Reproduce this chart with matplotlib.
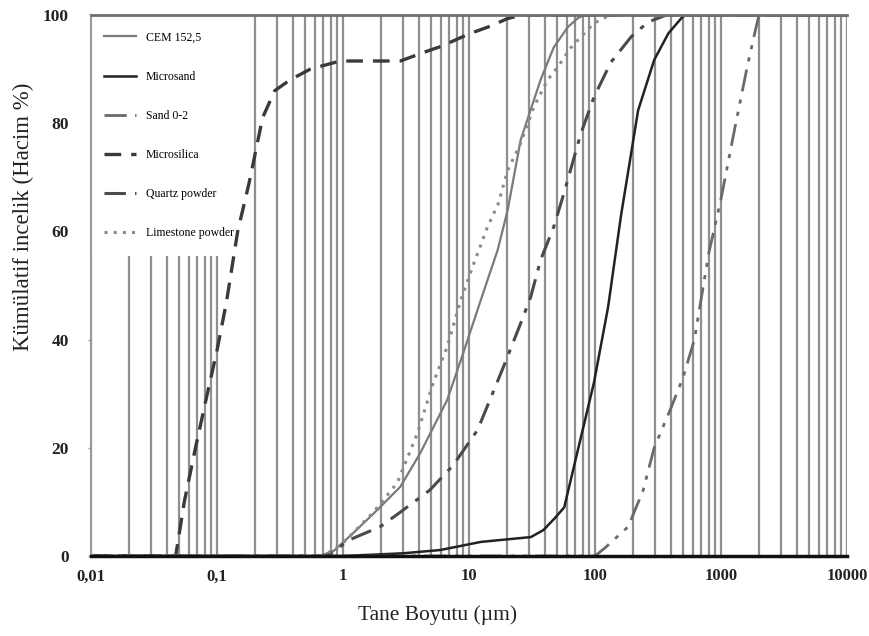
import numpy as np
import matplotlib
matplotlib.use('Agg')
import matplotlib.pyplot as plt
from matplotlib.ticker import FixedLocator, FixedFormatter, NullFormatter

plt.rcParams['font.family'] = ['Liberation Serif', 'DejaVu Serif']

# Cumulative passing (%) versus particle size (um).
cem_x = [0.01, 0.66, 0.85, 1.2, 1.87, 2.85, 4.1, 6.7, 9.0, 12.4, 16.9, 20.3,
         25.7, 37, 47, 61, 73, 82, 10000]
cem_y = [0, 0, 1, 4.2, 8.5, 12.8, 19, 28.8, 37.5, 47.3, 56.6, 64,
         76.9, 88, 94, 97.8, 99.4, 100, 100]

microsand_x = [0.01, 1.0, 3.0, 5.9, 12.4, 31, 39, 48, 57, 68, 98, 127, 161,
               220, 295, 382, 484, 520, 10000]
microsand_y = [0, 0, 0.5, 1.1, 2.6, 3.5, 4.8, 7, 9, 16.5, 32, 46, 63,
               82.4, 91.7, 96.6, 99.4, 100, 100]

sand_x = [0.01, 100, 120, 183, 240, 295, 403, 500, 615, 800, 1000, 1260,
          1600, 1850, 2000, 10000]
sand_y = [0, 0, 1.5, 5.4, 12, 20, 27.5, 33, 40, 56, 66, 78,
          90, 96.6, 100, 100]

microsilica_x = [0.01, 0.047, 0.055, 0.0675, 0.082, 0.1, 0.119, 0.146, 0.18,
                 0.23, 0.287, 0.38, 0.55, 0.95, 1.5, 2.85, 4.9, 6.0, 10, 15,
                 20, 26, 10000]
microsilica_y = [0, 0, 10, 20, 29, 38, 47, 60, 69,
                 81, 86, 88, 90, 91.5, 91.5, 91.5, 93.5, 94.2, 96.5, 98,
                 99.3, 100, 100]

quartz_x = [0.01, 0.75, 1.13, 1.97, 2.85, 4.9, 7.5, 11.7, 18.8, 25.7, 30.9,
            37, 47, 56.6, 77, 98, 134, 194, 264, 368, 10000]
quartz_y = [0, 0, 3, 5.4, 8.1, 12.2, 16.8, 23.3, 35, 43, 47.9,
            54.7, 60.8, 67, 78, 84.8, 91.3, 96, 98.7, 100, 100]

limestone_x = [0.01, 0.7, 1.0, 1.73, 2.69, 3.9, 5.2, 6.7, 8.6, 10.9, 14, 17,
               20.3, 25.7, 32.7, 42, 50.7, 64, 82, 98, 118, 130, 10000]
limestone_y = [0, 0, 2.4, 8, 13.5, 22.7, 32, 38.6, 47.3, 54, 60.8, 65,
               71.3, 76.3, 83, 88, 90.4, 93.9, 96.6, 98.5, 99.4, 100, 100]

x_ticks = [0.01, 0.1, 1, 10, 100, 1000, 10000]
x_tick_labels = ['0,01', '0,1', '1', '10', '100', '1000', '10000']
y_ticks = [0, 20, 40, 60, 80, 100]

fig = plt.figure(figsize=(8.69, 6.36), dpi=100)
ax = fig.add_axes([0.1047, 0.1258, 0.870, 0.8506])

# Curves drawn above the legend box, as in the original.
ax.plot(cem_x, cem_y, color='#7a7a7a', lw=1.6, label='CEM 152,5', zorder=6)
ax.plot(microsand_x, microsand_y, color='#222222', lw=1.8, label='Microsand',
        zorder=6)
ax.plot(sand_x, sand_y, color='#6a6a6a', lw=2.0, dashes=[8, 3, 1.5, 3, 1.5, 3],
        label='Sand 0-2', zorder=6)
ax.plot(microsilica_x, microsilica_y, color='#3a3a3a', lw=2.4, dashes=[5, 3],
        label='Microsilica', zorder=6)
ax.plot(quartz_x, quartz_y, color='#4a4a4a', lw=2.2, dashes=[7, 3, 1.5, 3],
        label='Quartz powder', zorder=6)
ax.plot(limestone_x, limestone_y, color='#8a8a8a', lw=2.2, dashes=[1, 2],
        label='Limestone powder', zorder=6)

ax.set_xscale('log')
ax.set_xlim(0.01, 10000)
ax.set_ylim(0, 100)

minor = [m * 10.0 ** e for e in range(-2, 4) for m in range(2, 10)]
ax.xaxis.set_major_locator(FixedLocator(x_ticks))
ax.xaxis.set_major_formatter(FixedFormatter(x_tick_labels))
ax.xaxis.set_minor_locator(FixedLocator(minor))
ax.xaxis.set_minor_formatter(NullFormatter())
ax.set_yticks(y_ticks)

ax.grid(True, which='both', axis='x', color='#8f8f8f', lw=1.6)
ax.set_axisbelow(True)

ax.tick_params(axis='x', which='both', length=0, pad=9, labelsize=12)
ax.tick_params(axis='y', length=2, width=1, color='#999999', pad=14,
               labelsize=12.5)
for lab in ax.get_xticklabels() + ax.get_yticklabels():
    lab.set_fontweight('bold')
    lab.set_color('#222222')

ax.spines['left'].set_color('#9a9a9a')
ax.spines['left'].set_linewidth(1.5)
ax.spines['left'].set_zorder(7)
ax.spines['top'].set_color('#6f6f6f')
ax.spines['top'].set_linewidth(2)
ax.spines['top'].set_zorder(7)
ax.spines['bottom'].set_color('#111111')
ax.spines['bottom'].set_linewidth(2.5)
ax.spines['bottom'].set_zorder(7)
ax.spines['right'].set_visible(False)

ax.set_xlabel('Tane Boyutu (µm)', fontsize=15.5, color='#222222')
ax.xaxis.set_label_coords(0.458, -0.092)
ax.set_ylabel('Kümülatif incelik (Hacim %)', fontsize=16.5, color='#222222')
ax.yaxis.set_label_coords(-0.075, 0.627)

leg = ax.legend(loc='upper left', bbox_to_anchor=(-0.005, 1.0),
                borderaxespad=0, fontsize=8.5, frameon=True, fancybox=False,
                handlelength=2.7, handletextpad=0.85, labelspacing=2.3,
                borderpad=1.4)
leg.get_frame().set_facecolor('white')
leg.get_frame().set_edgecolor('none')
leg.get_frame().set_alpha(1)
leg.set_zorder(5)

fig.savefig('out.png', dpi=100)
